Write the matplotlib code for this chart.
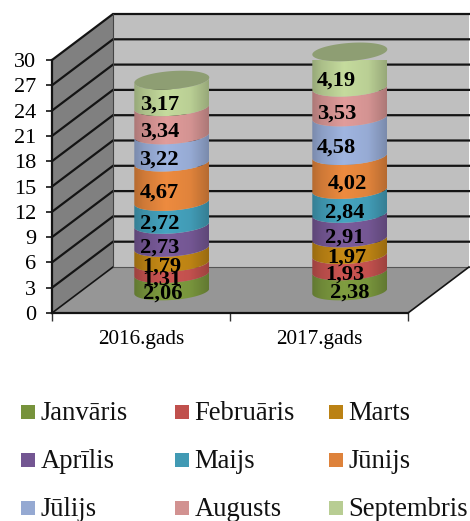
import numpy as np
import matplotlib
matplotlib.use("Agg")
import matplotlib.pyplot as plt
from matplotlib.patches import Polygon, Rectangle
from matplotlib.path import Path
from matplotlib.transforms import Affine2D

plt.rcParams['font.family'] = ['Liberation Serif', 'DejaVu Serif']

categories = ['2016.gads', '2017.gads']
months = ['Janvāris', 'Februāris', 'Marts', 'Aprīlis', 'Maijs', 'Jūnijs', 'Jūlijs', 'Augusts', 'Septembris']
labels_2016 = ['2,06', '1,31', '1,79', '2,73', '2,72', '4,67', '3,22', '3,34', '3,17']
labels_2017 = ['2,38', '1,93', '1,97', '2,91', '2,84', '4,02', '4,58', '3,53', '4,19']
values_2016 = [2.06, 1.31, 1.79, 2.73, 2.72, 4.67, 3.22, 3.34, 3.17]
values_2017 = [2.38, 1.93, 1.97, 2.91, 2.84, 4.02, 4.58, 3.53, 4.19]
colors = ['#77933C', '#C0504D', '#BB8214', '#735692', '#419AB4', '#DE823B', '#95A9D2', '#D29291', '#B8CD93']
yticks = list(range(0, 31, 3))

# label offsets from the segment centre, pixels
label_dx = [[-9.5, -9.5, -9.5, -12.5, -12.5, -12.5, -12.5, -12.5, -12.5],
            [0, -4.5, -2.5, -5.5, -5.5, -2.5, -13.5, -13.5, -13.5]]
label_dy = [-11.5, -11.5, -11.5, -11.5, -11, -11, -11, -11, -11]

W, H = 470, 521
fig = plt.figure(figsize=(W / 100, H / 100), dpi=100)
ax = fig.add_axes([52 / W, (H - 313) / H, 356 / W, 253 / H])
ax.patch.set_visible(False)
ax.set_xlim(0, 2)
ax.set_ylim(0, 30)
px_x = 356 / 2
px_y = 253 / 30
ddx, ddy = 61 / px_x, 46 / px_y

# walls and floor
ax.add_patch(Polygon([(0, 0), (ddx, ddy), (ddx, 30 + ddy), (0, 30)], fc='#808080', ec='none', clip_on=False, zorder=1))
ax.add_patch(Polygon([(ddx, ddy), (2 + ddx, ddy), (2 + ddx, 30 + ddy), (ddx, 30 + ddy)], fc='#BFBFBF', ec='none', clip_on=False, zorder=1))
ax.add_patch(Polygon([(0, 0), (2, 0), (2 + ddx, ddy), (ddx, ddy)], fc='#969696', ec='none', clip_on=False, zorder=1))
for v in yticks:
    ax.plot([0, ddx, 2 + ddx] if v else [ddx, 2 + ddx],
            [v, v + ddy, v + ddy] if v else [ddy, ddy],
            color='#141414' if v else '#555555', lw=1.6 if v else 0.8, clip_on=False, zorder=2, solid_joinstyle='miter')
ax.plot([0, ddx], [0, ddy], color='#141414', lw=1.2, clip_on=False, zorder=2)
ax.plot([2, 2 + ddx], [0, ddy], color='#141414', lw=1.2, clip_on=False, zorder=2)
ax.plot([ddx, ddx], [ddy, 30 + ddy], color='#444444', lw=0.8, clip_on=False, zorder=2)

# cylinders
shift = ax.transData + Affine2D().translate(30.8, 22)
rx, ry, tilt = 37.5 / px_x, 9.0 / px_y, 2.6 / px_y
tt = np.linspace(np.pi, 2 * np.pi, 60)
uu = np.linspace(-1, 1, 128)
shade = np.interp(uu, [-1, -0.75, -0.15, 0.5, 0.85, 1], [0.82, 0.93, 1.07, 1.01, 0.88, 0.82])


def arc(cx, v):
    return np.column_stack([cx + rx * np.cos(tt), v + ry * np.sin(tt) + tilt * np.cos(tt)])


for i, (vals, labs) in enumerate(zip([values_2016, values_2017], [labels_2016, labels_2017])):
    cx = i + 0.5
    tops = np.cumsum(vals)
    bottoms = tops - np.array(vals)
    for j, (b, t) in enumerate(zip(bottoms, tops)):
        base = np.array(matplotlib.colors.to_rgb(colors[j]))
        img = np.clip(shade[None, :, None] * base[None, None, :], 0, 1)
        verts = np.vstack([arc(cx, b), arc(cx, t)[::-1], arc(cx, b)[:1]])
        path = Path(verts, closed=True)
        im = ax.imshow(img, extent=(cx - rx, cx + rx, b - 3, t + 3), aspect='auto', transform=shift,
                       interpolation='bilinear', zorder=3, clip_on=True)
        im.set_clip_path(path, transform=shift)
        ax.text(cx, (b + t) / 2, labs[j], transform=shift + Affine2D().translate(label_dx[i][j], label_dy[j]),
                ha='center', va='center', fontsize=16.2, fontweight='bold', color='black', zorder=6, clip_on=False)
    full = np.linspace(0, 2 * np.pi, 100)
    ax.add_patch(Polygon(np.column_stack([cx + rx * np.cos(full), tops[-1] + ry * np.sin(full) + tilt * np.cos(full)]),
                         fc='#8E9E73', ec='none', transform=shift, clip_on=False, zorder=4))

ax.set_xlim(0, 2)
ax.set_ylim(0, 30)

# axes
for s in ['top', 'right']:
    ax.spines[s].set_visible(False)
for s in ['left', 'bottom']:
    ax.spines[s].set_linewidth(1.6)
    ax.spines[s].set_color('#141414')
    ax.spines[s].set_zorder(2.5)
ax.set_yticks(yticks)
ax.set_xticks([0, 1, 2])
ax.set_xticklabels([])
ax.set_xticks([0.5, 1.5], categories, minor=True)
ax.tick_params(axis='x', which='minor', length=0, labelsize=15.3, pad=12)
ax.tick_params(axis='x', which='major', length=6, width=1, color='#333333')
ax.tick_params(axis='y', length=4, width=1.2, labelsize=16, pad=7.5, color='#141414')

# legend
rows = [405, 453, 501]
cols = [21, 175, 329]
for k, m in enumerate(months):
    x0 = cols[k % 3]
    y0 = rows[k // 3]
    fig.add_artist(Rectangle((x0 / W, 1 - (y0 + 14) / H), 14 / W, 14 / H, transform=fig.transFigure,
                             fc=colors[k], ec='none'))
    fig.text((x0 + 19.5) / W, 1 - (y0 + 14.6) / H, m, fontsize=19.2, va='baseline', ha='left', color='#111111')

fig.savefig('out.png', dpi=100)
